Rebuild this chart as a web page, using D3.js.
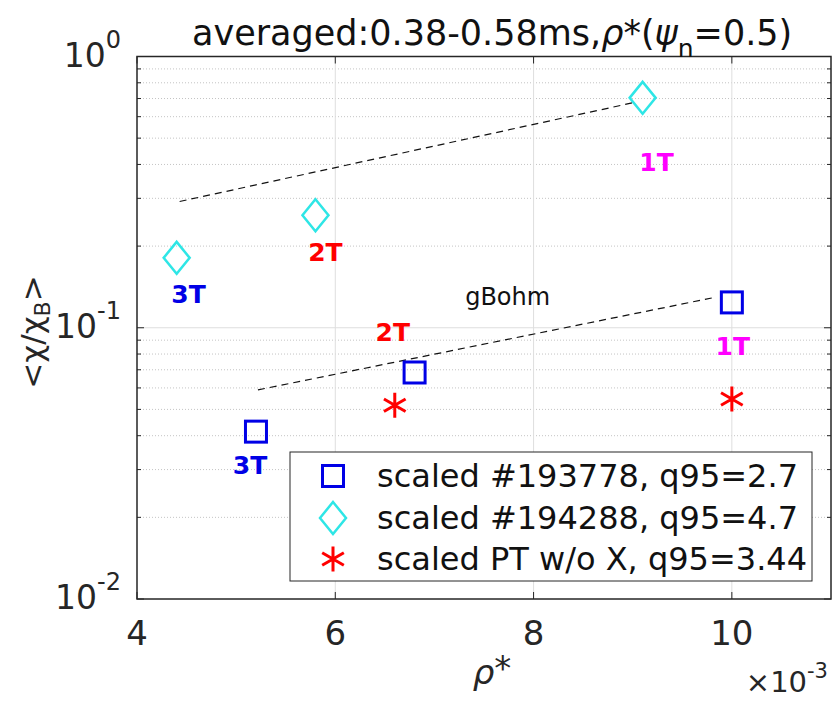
<!DOCTYPE html>
<html>
<head>
<meta charset="utf-8">
<script src="https://cdn.jsdelivr.net/npm/d3@7"></script>
<style>
  body { margin: 0; background: #fff; }
  svg { display: block; font-family: "DejaVu Sans", sans-serif; }
</style>
</head>
<body>
<div id="chart"></div>
<script>
// scaled #193778, q95=2.7 (squares)
var squareX = [5.2, 6.8, 10.0];
var squareY = [0.0414, 0.0684, 0.124];
// scaled #194288, q95=4.7 (diamonds)
var diamondX = [4.4, 5.8, 9.1];
var diamondY = [0.181, 0.26, 0.704];
// scaled PT w/o X, q95=3.44 (stars)
var starX = [6.6, 10.0];
var starY = [0.0518, 0.0546];

// gBohm reference lines
var upperLineX = [4.43, 9.0];
var upperLineY = [0.292, 0.675];
var lowerLineX = [5.22, 9.81];
var lowerLineY = [0.059, 0.129];

// field labels
var labelText = ["3T", "2T", "1T", "3T", "2T", "1T"];
var labelColor = ["#0000e6", "#ff0000", "#ff00ff", "#0000e6", "#ff0000", "#ff00ff"];
var labelX = [4.52, 5.90, 9.24, 5.14, 6.58, 10.01];
var labelY = [0.1337, 0.1905, 0.409, 0.0311, 0.0965, 0.0855];

var legendLabels = ["scaled #193778, q95=2.7", "scaled #194288, q95=4.7", "scaled PT w/o X, q95=3.44"];
var xTicks = [4, 6, 8, 10];
var yTicks = [0.01, 0.1, 1];
var yExponents = ["-2", "-1", "0"];

var width = 836, height = 702;
var margin = {top: 56.5, right: 5, bottom: 103, left: 137};

var svg = d3.select("#chart")
    .append("svg")
    .attr("width", width)
    .attr("height", height);

var x = d3.scaleLinear().domain([4, 11]).range([margin.left, width - margin.right]);
var y = d3.scaleLog().domain([0.01, 1]).range([height - margin.bottom, margin.top]);

var x0 = x.range()[0], x1 = x.range()[1];
var yb = y.range()[0], yt = y.range()[1];

var minorY = y.ticks().filter(function (v) {
    return yTicks.every(function (t) { return Math.abs(v - t) > 1e-9; });
});

// grid
svg.selectAll(".minor-grid")
    .data(minorY)
    .enter()
    .append("line")
    .attr("x1", x0).attr("x2", x1)
    .attr("y1", d => y(d)).attr("y2", d => y(d))
    .style("stroke", "#c4c4c4")
    .style("stroke-width", 1)
    .style("stroke-dasharray", "1,2");

svg.selectAll(".major-gridx")
    .data(xTicks.slice(1))
    .enter()
    .append("line")
    .attr("x1", d => x(d)).attr("x2", d => x(d))
    .attr("y1", yt).attr("y2", yb)
    .style("stroke", "#dedede")
    .style("stroke-width", 1);

svg.append("line")
    .attr("x1", x0).attr("x2", x1)
    .attr("y1", y(0.1)).attr("y2", y(0.1))
    .style("stroke", "#dedede")
    .style("stroke-width", 1);

// ticks (inward, both sides)
var tickColor = "#262626";
xTicks.forEach(function (t) {
    svg.append("line").attr("x1", x(t)).attr("x2", x(t)).attr("y1", yb).attr("y2", yb - 7)
        .style("stroke", tickColor).style("stroke-width", 1);
    svg.append("line").attr("x1", x(t)).attr("x2", x(t)).attr("y1", yt).attr("y2", yt + 7)
        .style("stroke", tickColor).style("stroke-width", 1);
});
yTicks.forEach(function (t) {
    svg.append("line").attr("x1", x0).attr("x2", x0 + 7).attr("y1", y(t)).attr("y2", y(t))
        .style("stroke", tickColor).style("stroke-width", 1);
    svg.append("line").attr("x1", x1).attr("x2", x1 - 7).attr("y1", y(t)).attr("y2", y(t))
        .style("stroke", tickColor).style("stroke-width", 1);
});
minorY.forEach(function (t) {
    svg.append("line").attr("x1", x0).attr("x2", x0 + 4).attr("y1", y(t)).attr("y2", y(t))
        .style("stroke", tickColor).style("stroke-width", 1);
    svg.append("line").attr("x1", x1).attr("x2", x1 - 4).attr("y1", y(t)).attr("y2", y(t))
        .style("stroke", tickColor).style("stroke-width", 1);
});

// frame
svg.append("rect")
    .attr("x", x0).attr("y", yt)
    .attr("width", x1 - x0).attr("height", yb - yt)
    .style("fill", "none")
    .style("stroke", tickColor)
    .style("stroke-width", 1.5);

// tick labels
svg.selectAll(".xtick")
    .data(xTicks)
    .enter()
    .append("text")
    .attr("x", d => x(d))
    .attr("y", yb + 46)
    .attr("text-anchor", "middle")
    .style("font-size", "34px")
    .style("fill", "#262626")
    .text(d => d);

var ylab = svg.selectAll(".ytick")
    .data(yTicks)
    .enter()
    .append("text")
    .attr("x", x0 - 16)
    .attr("y", d => y(d) + 10)
    .attr("text-anchor", "end")
    .style("fill", "#262626");
ylab.append("tspan").style("font-size", "33px").text("10");
ylab.append("tspan").style("font-size", "24px").attr("dy", -19)
    .text((d, i) => yExponents[i]);

// x10^-3
var xm = svg.append("text")
    .attr("x", x1 - 3)
    .attr("y", 692)
    .attr("text-anchor", "end")
    .style("fill", "#262626");
xm.append("tspan").style("font-size", "29px").text("\u00d710");
xm.append("tspan").style("font-size", "21px").attr("dy", -14).text("-3");

// axis labels
var xl = svg.append("text")
    .attr("x", 492)
    .attr("y", 684)
    .attr("text-anchor", "middle")
    .style("fill", "#262626");
xl.append("tspan").style("font-size", "34px").style("font-style", "italic").text("\u03c1");
xl.append("tspan").style("font-size", "34px").attr("dy", -4).text("*");

var yl = svg.append("text")
    .attr("transform", "translate(43,332) rotate(-90)")
    .attr("text-anchor", "middle")
    .style("fill", "#262626");
yl.append("tspan").style("font-size", "31px").text("<\u03c7/\u03c7");
yl.append("tspan").style("font-size", "22px").attr("dy", 7).text("B");
yl.append("tspan").style("font-size", "31px").attr("dy", -7).text(">");

// title
var title = svg.append("text")
    .attr("x", 192)
    .attr("y", 45)
    .style("fill", "#111");
title.append("tspan").style("font-size", "35px").text("averaged:0.38-0.58ms,");
title.append("tspan").style("font-size", "35px").style("font-style", "italic").text("\u03c1");
title.append("tspan").style("font-size", "35px").text("*(");
title.append("tspan").style("font-size", "35px").style("font-style", "italic").text("\u03c8");
title.append("tspan").style("font-size", "25px").attr("dy", 12).text("n");
title.append("tspan").style("font-size", "35px").attr("dy", -12).text("=0.5)");

// gBohm lines
var line = d3.line().x(d => x(d[0])).y(d => y(d[1]));
[[upperLineX, upperLineY], [lowerLineX, lowerLineY]].forEach(function (p) {
    svg.append("path")
        .attr("d", line(d3.zip(p[0], p[1])))
        .style("fill", "none")
        .style("stroke", "#111")
        .style("stroke-width", 1.2)
        .style("stroke-dasharray", "7,5");
});

svg.append("text")
    .attr("x", x(7.31))
    .attr("y", y(0.1307))
    .attr("dy", "0.35em")
    .style("font-size", "24px")
    .style("fill", "#111")
    .text("gBohm");

// markers
var squareColor = "#0000e6", diamondColor = "#2ee6e6", starColor = "#ff0000";
function drawSquare(g, cx, cy) {
    g.append("rect").attr("x", cx - 10.5).attr("y", cy - 10.5)
        .attr("width", 21).attr("height", 21)
        .style("fill", "none").style("stroke", squareColor).style("stroke-width", 3);
}
function drawDiamond(g, cx, cy) {
    g.append("path")
        .attr("d", "M" + cx + "," + (cy - 16) + "L" + (cx + 13) + "," + cy + "L" + cx + "," + (cy + 16) + "L" + (cx - 13) + "," + cy + "Z")
        .style("fill", "none").style("stroke", diamondColor).style("stroke-width", 2.5);
}
function drawStar(g, cx, cy) {
    var r = 12.5, dx = 12.5 * Math.cos(Math.PI / 6), dy = 12.5 * Math.sin(Math.PI / 6);
    g.append("path")
        .attr("d", "M" + cx + "," + (cy - r) + "L" + cx + "," + (cy + r) +
            "M" + (cx - dx) + "," + (cy - dy) + "L" + (cx + dx) + "," + (cy + dy) +
            "M" + (cx - dx) + "," + (cy + dy) + "L" + (cx + dx) + "," + (cy - dy))
        .style("fill", "none").style("stroke", starColor).style("stroke-width", 3);
}

var marks = svg.append("g");
d3.zip(squareX, squareY).forEach(d => drawSquare(marks, x(d[0]), y(d[1])));
d3.zip(diamondX, diamondY).forEach(d => drawDiamond(marks, x(d[0]), y(d[1])));
d3.zip(starX, starY).forEach(d => drawStar(marks, x(d[0]), y(d[1])));

// labels
svg.selectAll(".lbl")
    .data(labelText)
    .enter()
    .append("text")
    .attr("x", (d, i) => x(labelX[i]))
    .attr("y", (d, i) => y(labelY[i]))
    .attr("dy", "0.36em")
    .attr("text-anchor", "middle")
    .style("font-size", "25px")
    .style("font-weight", "bold")
    .style("fill", (d, i) => labelColor[i])
    .text(d => d);

// legend
var legend = svg.append("g");
legend.append("rect")
    .attr("x", 290).attr("y", 452)
    .attr("width", 522).attr("height", 129)
    .style("fill", "#fff")
    .style("stroke", "#262626")
    .style("stroke-width", 1);
var rowY = [476, 518, 559];
drawSquare(legend, 333, rowY[0]);
drawDiamond(legend, 333, rowY[1]);
drawStar(legend, 333, rowY[2]);
legend.selectAll(".ltxt")
    .data(legendLabels)
    .enter()
    .append("text")
    .attr("x", 377)
    .attr("y", (d, i) => rowY[i] + 11)
    .style("font-size", "32px")
    .style("fill", "#111")
    .text(d => d);
</script>
</body>
</html>
